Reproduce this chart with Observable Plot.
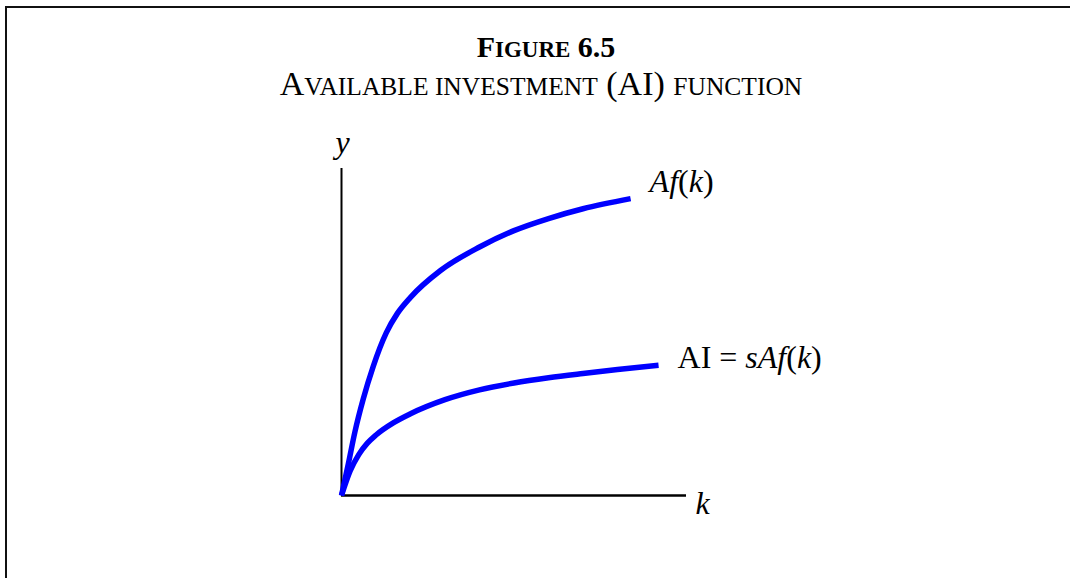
<!DOCTYPE html>
<html>
<head>
<meta charset="utf-8">
<script src="https://cdn.jsdelivr.net/npm/d3@7"></script>
<script src="https://cdn.jsdelivr.net/npm/@observablehq/plot@0.6"></script>
<style>
html, body { margin: 0; padding: 0; background: #fff; overflow: hidden; }
#page { position: relative; width: 1070px; height: 578px; font-family: "Liberation Serif", "Times New Roman", serif; color: #000; }
#frame { position: absolute; left: 5px; top: 6px; width: 1080px; height: 600px; border-top: 2px solid #111; border-left: 2px solid #111; pointer-events: none; z-index: 5; }
.title { position: absolute; left: 0; width: 1092px; text-align: center; font-weight: bold; font-size: 30px; line-height: 30px; top: 32px; white-space: nowrap; }
.sub { position: absolute; left: 0; width: 1082px; text-align: center; font-size: 34px; line-height: 34px; top: 67px; white-space: nowrap; }
.title .sc { font-size: 23px; }
.sub .sc { font-size: 25.5px; }
#chart { position: absolute; left: 0; top: 120px; }
</style>
</head>
<body>
<div id="page">
  <div id="frame"></div>
  <div class="title">F<span class="sc">IGURE</span> 6.5</div>
  <div class="sub">A<span class="sc">VAILABLE INVESTMENT</span> (AI) <span class="sc">FUNCTION</span></div>
  <div id="chart"></div>
</div>
<script>
// Capital per worker (k) and output values (arbitrary units)
const kAf = [0, 0.2, 0.39, 0.63, 0.92, 1.3, 1.62, 2, 2.87, 4, 5, 6, 7, 8.38];
const afValues = [0, 0.98, 1.95, 2.95, 3.95, 4.98, 5.57, 6.06, 6.88, 7.6, 8.1, 8.47, 8.77, 9.08];
const kAI = [0, 0.25, 0.5, 0.75, 1, 1.5, 2, 3, 4, 5, 6, 7, 8, 9.19];
const aiValues = [0, 0.75, 1.25, 1.6, 1.85, 2.22, 2.5, 2.93, 3.23, 3.44, 3.6, 3.73, 3.85, 3.98];
const seriesNames = ["Af(k)", "AI = sAf(k)"];
const axisNames = ["k", "y"];
const kDomain = [0, 10];
const yDomain = [0, 10];

// Italic / upright runs for the curve labels
const labelRuns = {
  "Af(k)": [["A", true], ["f", true], ["(", false], ["k", true], [")", false]],
  "AI = sAf(k)": [["AI = ", false], ["sAf", true], ["(", false], ["k", true], [")", false]]
};

const afRows = kAf.map((k, i) => ({series: seriesNames[0], k, y: afValues[i]}));
const aiRows = kAI.map((k, i) => ({series: seriesNames[1], k, y: aiValues[i]}));
const afEnd = [afRows[afRows.length - 1]];
const aiEnd = [aiRows[aiRows.length - 1]];

const font = '"Liberation Serif", "Times New Roman", serif';
const blue = "#0000ff";

const chart = Plot.plot({
  width: 1070,
  height: 458,
  marginLeft: 341,
  marginRight: 384,
  marginTop: 48,
  marginBottom: 83,
  style: {background: "transparent", overflow: "visible"},
  x: {domain: kDomain, axis: null},
  y: {domain: yDomain, axis: null},
  marks: [
    Plot.ruleY([yDomain[0]], {x1: kDomain[0], x2: kDomain[1], stroke: "#000", strokeWidth: 2.5}),
    Plot.ruleX([kDomain[0]], {y1: yDomain[0], y2: yDomain[1], stroke: "#000", strokeWidth: 2}),
    Plot.line(afRows, {x: "k", y: "y", stroke: blue, strokeWidth: 5.5, curve: "monotone-x", strokeLinecap: "butt"}),
    Plot.line(aiRows, {x: "k", y: "y", stroke: blue, strokeWidth: 5.5, curve: "monotone-x", strokeLinecap: "butt"}),
    Plot.text(afEnd, {x: "k", y: "y", text: "series", textAnchor: "start", lineAnchor: "bottom", dx: 19, dy: -7, fontFamily: font, fontSize: 32, fill: "#000"}),
    Plot.text(aiEnd, {x: "k", y: "y", text: "series", textAnchor: "start", lineAnchor: "bottom", dx: 19, dy: 3, fontFamily: font, fontSize: 32, fill: "#000"}),
    Plot.text([{k: kDomain[0], y: yDomain[1], t: axisNames[1]}], {x: "k", y: "y", text: "t", textAnchor: "middle", lineAnchor: "bottom", dx: 1, dy: -16, fontFamily: font, fontSize: 32, fontStyle: "italic", fill: "#000"}),
    Plot.text([{k: kDomain[1], y: yDomain[0], t: axisNames[0]}], {x: "k", y: "y", text: "t", textAnchor: "start", lineAnchor: "bottom", dx: 9, dy: 18, fontFamily: font, fontSize: 32, fontStyle: "italic", fill: "#000"})
  ]
});

// Rebuild curve labels with mixed italic / upright runs
d3.select(chart).selectAll("text").each(function () {
  const runs = labelRuns[this.textContent];
  if (!runs) return;
  const t = d3.select(this);
  t.text(null).style("white-space", "pre");
  runs.forEach(([s, it]) => t.append("tspan").text(s).attr("font-style", it ? "italic" : "normal"));
});

document.getElementById("chart").appendChild(chart);
</script>
</body>
</html>
